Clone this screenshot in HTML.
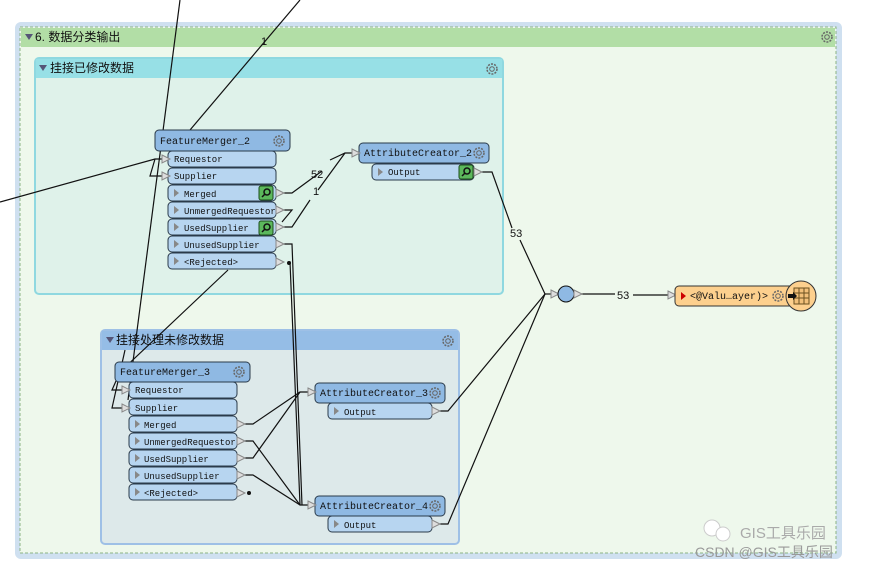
<!DOCTYPE html>
<html><head><meta charset="utf-8"><style>
body{margin:0;background:#fff;width:890px;height:572px;overflow:hidden}
svg text{font-family:"Liberation Mono","Noto Sans CJK SC",monospace;font-size:10px;fill:#111}
svg text.p{font-size:9px}
.cn{font-family:"Liberation Sans","Noto Sans CJK SC",sans-serif;font-size:12px}
.lb{font-family:"Liberation Sans",sans-serif;font-size:11px}
.hd{fill:#8fb9e3;stroke:#2a3a4a;stroke-width:1}
.pt{fill:#b7d5f0;stroke:#2a3a4a;stroke-width:1}
.ln{stroke:#111;stroke-width:1.2;fill:none}
</style></head><body>
<svg width="890" height="572" xmlns="http://www.w3.org/2000/svg">
<defs>
<g id="gear"><circle r="5" fill="none" stroke="#666" stroke-width="1.5" stroke-dasharray="2 1.2"/><circle r="2.3" fill="none" stroke="#666"/></g>
<g id="tri"><path d="M0,-4 L8,0 L0,4Z" fill="#ddd" stroke="#888"/></g>
<g id="mag"><rect x="-7" y="-7" width="14" height="14" rx="2" fill="#5cb85c" stroke="#1d4d1d"/><circle cx="1" cy="-1" r="3" fill="none" stroke="#111" stroke-width="1.5"/><line x1="-1" y1="1" x2="-4" y2="4" stroke="#111" stroke-width="1.5"/></g>
</defs>
<rect x="15" y="22" width="827" height="537" rx="6" fill="#cfe0f0"/>
<rect x="20" y="27" width="816" height="526" fill="#eef8ec" stroke="#8cb585" stroke-dasharray="3 2"/>
<rect x="21" y="28" width="814" height="19" fill="#b2dea6"/>
<path d="M25,34 l8,0 l-4,6z" fill="#557"/>
<text x="35" y="41" class="cn">6. 数据分类输出</text>
<use href="#gear" x="827" y="37"/>
<rect x="35" y="58" width="468" height="236" rx="4" fill="#dff2ea" stroke="#8fd8e0" stroke-width="2"/>
<rect x="36" y="59" width="466" height="19" fill="#97e0e6"/>
<path d="M39,65 l8,0 l-4,6z" fill="#557"/>
<text x="50" y="72" class="cn">挂接已修改数据</text>
<use href="#gear" x="492" y="69"/>
<rect x="101" y="330" width="358" height="214" rx="4" fill="#dde9ea" stroke="#9ec0e6" stroke-width="2"/>
<rect x="102" y="331" width="356" height="19" fill="#95bde6"/>
<path d="M106,337 l8,0 l-4,6z" fill="#557"/>
<text x="116" y="344" class="cn">挂接处理未修改数据</text>
<use href="#gear" x="448" y="341"/>

<g class="ln">
<path d="M180,0 L128,400"/>
<path d="M300,0 L190,130"/>
<path d="M0,202 L155,159 L168,159"/>
<path d="M155,159 L150,176 L168,176"/>
<path d="M228,270 L120,372 L112,390 L128,390"/>
<path d="M125,350 L112,408 L128,408"/>
<path d="M284,193 L292,193 L322,171 M330,160 L345,153 L359,153"/>
<path d="M284,210 L292,210 L282,222"/>
<path d="M284,227 L292,227 L310,200 M318,190 L345,153"/>
<path d="M284,244 L292,244 L302,505"/>
<path d="M288,262 L290,262 L300,505"/>
<path d="M482,172 L492,172 L512,228 M520,240 L545,294"/>
<path d="M545,294 L557,294"/>
<path d="M575,294 L615,294 M633,295 L668,295"/>
<path d="M440,411 L448,411 L545,294"/>
<path d="M440,524 L448,524 L545,294"/>
<path d="M245,424 L253,424 L300,392 L315,392"/>
<path d="M245,458 L253,458 L300,392"/>
<path d="M245,441 L253,441 L300,505 L315,505"/>
<path d="M245,475 L253,475 L300,505"/>
</g>
<g fill="#111"><circle cx="289" cy="263" r="2"/><circle cx="249" cy="493" r="2"/></g>
<text x="261" y="45" class="lb">1</text>
<text x="311" y="178" class="lb">52</text>
<text x="313" y="195" class="lb">1</text>
<text x="510" y="237" class="lb">53</text>
<text x="617" y="299" class="lb">53</text>

<rect x="155" y="130" width="135" height="21" rx="4" class="hd"/>
<text x="160" y="144">FeatureMerger_2</text>
<use href="#gear" x="279" y="141"/>
<rect x="168" y="151" width="108" height="16" rx="4" class="pt"/><text class="p" x="174" y="162">Requestor</text>
<rect x="168" y="168" width="108" height="16" rx="4" class="pt"/><text class="p" x="174" y="179">Supplier</text>
<rect x="168" y="185" width="108" height="16" rx="4" class="pt"/><text class="p" x="184" y="197">Merged</text>
<rect x="168" y="202" width="108" height="16" rx="4" class="pt"/><text class="p" x="184" y="214">UnmergedRequestor</text>
<rect x="168" y="219" width="108" height="16" rx="4" class="pt"/><text class="p" x="184" y="231">UsedSupplier</text>
<rect x="168" y="236" width="108" height="16" rx="4" class="pt"/><text class="p" x="184" y="248">UnusedSupplier</text>
<rect x="168" y="253" width="108" height="16" rx="4" class="pt"/><text class="p" x="184" y="265">&lt;Rejected&gt;</text>
<g fill="#888"><path d="M174,189 l5,4 l-5,4z"/><path d="M174,206 l5,4 l-5,4z"/><path d="M174,223 l5,4 l-5,4z"/><path d="M174,240 l5,4 l-5,4z"/><path d="M174,257 l5,4 l-5,4z"/></g>
<use href="#tri" x="162" y="159"/><use href="#tri" x="162" y="176"/>
<use href="#tri" x="276" y="193"/><use href="#tri" x="276" y="210"/><use href="#tri" x="276" y="227"/><use href="#tri" x="276" y="244"/><use href="#tri" x="276" y="262"/>
<use href="#mag" x="266" y="193"/><use href="#mag" x="266" y="228"/>
<rect x="359" y="143" width="130" height="20" rx="4" class="hd"/>
<text x="364" y="156">AttributeCreator_2</text><use href="#gear" x="479" y="153"/>
<rect x="372" y="164" width="102" height="16" rx="4" class="pt"/><text class="p" x="388" y="175">Output</text>
<path d="M378,168 l5,4 l-5,4z" fill="#888"/><use href="#mag" x="466" y="172"/>
<use href="#tri" x="352" y="153"/><use href="#tri" x="474" y="172"/>

<rect x="115" y="362" width="135" height="20" rx="4" class="hd"/>
<text x="120" y="375">FeatureMerger_3</text><use href="#gear" x="239" y="372"/>
<rect x="129" y="382" width="108" height="16" rx="4" class="pt"/><text class="p" x="135" y="393">Requestor</text>
<rect x="129" y="399" width="108" height="16" rx="4" class="pt"/><text class="p" x="135" y="411">Supplier</text>
<rect x="129" y="416" width="108" height="16" rx="4" class="pt"/><text class="p" x="144" y="428">Merged</text>
<rect x="129" y="433" width="108" height="16" rx="4" class="pt"/><text class="p" x="144" y="445">UnmergedRequestor</text>
<rect x="129" y="450" width="108" height="16" rx="4" class="pt"/><text class="p" x="144" y="462">UsedSupplier</text>
<rect x="129" y="467" width="108" height="16" rx="4" class="pt"/><text class="p" x="144" y="479">UnusedSupplier</text>
<rect x="129" y="484" width="108" height="16" rx="4" class="pt"/><text class="p" x="144" y="496">&lt;Rejected&gt;</text>
<g fill="#888"><path d="M135,420 l5,4 l-5,4z"/><path d="M135,437 l5,4 l-5,4z"/><path d="M135,454 l5,4 l-5,4z"/><path d="M135,471 l5,4 l-5,4z"/><path d="M135,488 l5,4 l-5,4z"/></g>
<use href="#tri" x="122" y="390"/><use href="#tri" x="122" y="408"/>
<use href="#tri" x="237" y="424"/><use href="#tri" x="237" y="441"/><use href="#tri" x="237" y="458"/><use href="#tri" x="237" y="475"/><use href="#tri" x="237" y="493"/>
<rect x="315" y="383" width="130" height="20" rx="4" class="hd"/>
<text x="320" y="396">AttributeCreator_3</text><use href="#gear" x="435" y="393"/>
<rect x="328" y="403" width="104" height="16" rx="4" class="pt"/><text class="p" x="344" y="415">Output</text>
<path d="M334,407 l5,4 l-5,4z" fill="#888"/>
<use href="#tri" x="308" y="392"/><use href="#tri" x="432" y="411"/>
<rect x="315" y="496" width="130" height="20" rx="4" class="hd"/>
<text x="320" y="509">AttributeCreator_4</text><use href="#gear" x="435" y="506"/>
<rect x="328" y="516" width="104" height="16" rx="4" class="pt"/><text class="p" x="344" y="528">Output</text>
<path d="M334,520 l5,4 l-5,4z" fill="#888"/>
<use href="#tri" x="308" y="505"/><use href="#tri" x="432" y="524"/>

<use href="#tri" x="551" y="294"/>
<circle cx="566" cy="294" r="8" fill="#8fb9e3" stroke="#111"/>
<use href="#tri" x="574" y="294"/>
<use href="#tri" x="668" y="295"/>
<rect x="675" y="286" width="125" height="20" rx="4" fill="#fdd08e" stroke="#333"/>
<path d="M681,292 l5,4 l-5,4z" fill="#c00"/>
<text x="690" y="299">&lt;@Valu…ayer)&gt;</text>
<use href="#gear" x="778" y="296"/>
<circle cx="801" cy="296" r="15" fill="#fdd08e" stroke="#333"/>
<rect x="794" y="288" width="15" height="16" fill="#f2c07a" stroke="#6b5020"/>
<path d="M794,293h15M794,298h15M799,288v16M804,288v16" stroke="#6b5020"/>
<path d="M788,294h5v-2l4,4l-4,4v-2h-5z" fill="#111"/>
<text x="740" y="538" style="font-family:'Liberation Sans','Noto Sans CJK SC',sans-serif;font-size:15px;fill:#aaa">GIS工具乐园</text>
<text x="695" y="557" style="font-family:'Liberation Sans','Noto Sans CJK SC',sans-serif;font-size:14px;fill:#999">CSDN @GIS工具乐园</text>
<circle cx="712" cy="528" r="8" fill="#fff" stroke="#ccc"/><circle cx="723" cy="534" r="7" fill="#fff" stroke="#ccc"/>
</svg>
</body></html>
